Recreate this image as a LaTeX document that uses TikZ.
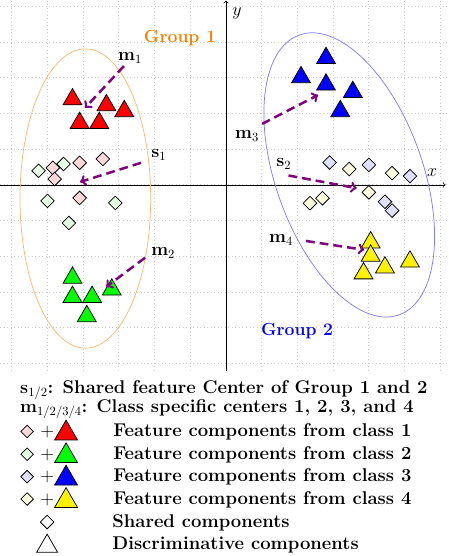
\documentclass[tikz,border=0pt]{standalone}
\usepackage{amsmath}
\usetikzlibrary{positioning,shapes.geometric}
\definecolor{cpurple}{RGB}{128,0,128}
\tikzset{disc/.style={regular polygon,regular polygon sides=3,draw=black,line width=0.6pt,inner sep=0pt,minimum size=0.61cm},
         shared/.style={diamond,draw=black,line width=0.6pt,inner sep=0pt,minimum size=0.39cm},
         centerline/.style={->,cpurple,line width=2pt,dash pattern=on 7pt off 4pt},
         lbl/.style={font=\fontsize{14.7}{17}\selectfont},
         grouplbl/.style={font=\fontsize{14}{17}\selectfont\bfseries},
         legtext/.style={anchor=base west,inner sep=0pt,font=\fontsize{14.7}{17}\selectfont\bfseries}
}

\begin{document}
\begin{tikzpicture}[x=1cm,y=0.826cm]
  \useasboundingbox (-6.33,-12.58) rectangle (6.22,6.27);
  % grid and axes
  \draw[gray!40,dotted,thick] (-6.33,-6.3) grid (6.22,6.27);
  \draw[->,semithick] (-6.33,0) -- (6.15,0);
  \draw[->,semithick] (0,-6.3) -- (0,6.25);
  \node[lbl] (xl) at (5.77,0.41) {$x$};
  \node[lbl] (yl) at (0.31,5.83) {$y$};

  % groups
  \draw[orange!55,semithick] (-3.94,-0.46) ellipse [x radius=1.83cm, y radius=4.19cm];
  \draw[blue!50,semithick,rotate around={19.6:(3.45,0.34)}] (3.45,0.34) ellipse [x radius=2.06cm, y radius=4.16cm];
  \node[grouplbl,orange] (g1l) at (-1.29,4.98) {Group 1};
  \node[grouplbl,blue] (g2l) at (1.99,-4.95) {Group 2};

  % shared components, group 1
  \node[shared,fill=green!10] (q1) at (-5.25,0.48) {};
  \node[shared,fill=red!15] (p1) at (-4.85,0.58) {};
  \node[shared,fill=green!10] (q2) at (-4.55,0.71) {};
  \node[shared,fill=red!15] (p2) at (-4.1,0.75) {};
  \node[shared,fill=red!15] (p3) at (-3.45,0.88) {};
  \node[shared,fill=red!15] (p4) at (-4.8,0.2) {};
  \node[shared,fill=red!15] (p5) at (-4.1,-0.44) {};
  \node[shared,fill=green!10] (q3) at (-5.0,-0.54) {};
  \node[shared,fill=green!10] (q4) at (-3.1,-0.61) {};
  \node[shared,fill=green!10] (q5) at (-4.4,-1.29) {};
  % shared components, group 2
  \node[shared,fill=blue!12] (v1) at (2.9,0.76) {};
  \node[shared,fill=yellow!12] (c1) at (3.45,0.54) {};
  \node[shared,fill=blue!12] (v2) at (4.0,0.68) {};
  \node[shared,fill=yellow!12] (c2) at (4.65,0.4) {};
  \node[shared,fill=blue!12] (v3) at (5.15,0.3) {};
  \node[shared,fill=yellow!12] (c3) at (4.0,-0.25) {};
  \node[shared,fill=yellow!12] (c4) at (2.35,-0.62) {};
  \node[shared,fill=yellow!12] (c5) at (2.7,-0.45) {};
  \node[shared,fill=blue!12] (v4) at (4.45,-0.57) {};
  \node[shared,fill=blue!12] (v5) at (4.65,-0.87) {};

  % discriminative components
  \node[disc,fill=red] (r1) at (-4.3,2.9) {};
  \node[disc,fill=red] (r2) at (-3.35,2.7) {};
  \node[disc,fill=red] (r3) at (-2.85,2.5) {};
  \node[disc,fill=red] (r4) at (-4.1,2.1) {};
  \node[disc,fill=red] (r5) at (-3.55,2.1) {};
  \node[disc,fill=green] (g1) at (-4.3,-3.15) {};
  \node[disc,fill=green] (g2) at (-4.3,-3.8) {};
  \node[disc,fill=green] (g3) at (-3.75,-3.8) {};
  \node[disc,fill=green] (g4) at (-3.2,-3.55) {};
  \node[disc,fill=green] (g5) at (-3.9,-4.45) {};
  \node[disc,fill=blue] (b1) at (2.8,4.3) {};
  \node[disc,fill=blue] (b2) at (2.1,3.65) {};
  \node[disc,fill=blue] (b3) at (2.8,3.4) {};
  \node[disc,fill=blue] (b4) at (3.55,3.15) {};
  \node[disc,fill=blue] (b5) at (3.2,2.5) {};
  \node[disc,fill=yellow] (y1) at (4.05,-1.95) {};
  \node[disc,fill=yellow] (y2) at (4.05,-2.4) {};
  \node[disc,fill=yellow] (y3) at (4.45,-2.8) {};
  \node[disc,fill=yellow] (y4) at (5.15,-2.6) {};
  \node[disc,fill=yellow] (y5) at (3.85,-3.0) {};

  % centers
  \node[lbl] (m1l) at (-2.69,4.31) {$\mathbf{m}_1$};
  \node[lbl] (s1l) at (-1.88,1.02) {$\mathbf{s}_1$};
  \node[lbl] (m2l) at (-1.76,-2.31) {$\mathbf{m}_2$};
  \node[lbl] (m3l) at (0.59,1.66) {$\mathbf{m}_3$};
  \node[lbl] (s2l) at (1.62,0.71) {$\mathbf{s}_2$};
  \node[lbl] (m4l) at (1.54,-1.86) {$\mathbf{m}_4$};
  \coordinate (m1a) at (-2.86,4.03);
  \coordinate (m1b) at (-3.95,2.61);
  \coordinate (s1a) at (-2.38,0.75);
  \coordinate (s1b) at (-4.09,0.1);
  \coordinate (m2a) at (-2.27,-2.47);
  \coordinate (m2b) at (-3.36,-3.46);
  \coordinate (m3a) at (1.01,2.07);
  \coordinate (m3b) at (2.58,3.05);
  \coordinate (s2a) at (1.75,0.32);
  \coordinate (s2b) at (3.66,-0.11);
  \coordinate (m4a) at (2.24,-1.9);
  \coordinate (m4b) at (3.87,-2.2);
  \draw[centerline] (m1a) -- (m1b);
  \draw[centerline] (s1a) -- (s1b);
  \draw[centerline] (m2a) -- (m2b);
  \draw[centerline] (m3a) -- (m3b);
  \draw[centerline] (s2a) -- (s2b);
  \draw[centerline] (m4a) -- (m4b);

  % legend
  \node[legtext] (sleg) at (-5.77,-7.08) {$\mathbf{s}_{1/2}$: Shared feature Center of Group 1 and 2};
  \node[legtext] (mleg) at (-5.77,-7.7) {$\mathbf{m}_{1/2/3/4}$: Class specific centers 1, 2, 3, and 4};
  \node[shared,fill=red!15,minimum size=0.36cm] (ld1) at (-5.57,-8.36) {};
  \node[lbl] (lp1) at (-5.01,-8.38) {$+$};
  \node[disc,fill=red,minimum size=0.74cm] (lt1) at (-4.48,-8.42) {};
  \node[legtext] (lx1) at (-3.165,-8.53) {Feature components from class 1};
  \node[shared,fill=green!10,minimum size=0.36cm] (ld2) at (-5.57,-9.13) {};
  \node[lbl] (lp2) at (-5.01,-9.15) {$+$};
  \node[disc,fill=green,minimum size=0.74cm] (lt2) at (-4.48,-9.19) {};
  \node[legtext] (lx2) at (-3.165,-9.3) {Feature components from class 2};
  \node[shared,fill=blue!12,minimum size=0.36cm] (ld3) at (-5.57,-9.89) {};
  \node[lbl] (lp3) at (-5.01,-9.91) {$+$};
  \node[disc,fill=blue,minimum size=0.74cm] (lt3) at (-4.48,-9.95) {};
  \node[legtext] (lx3) at (-3.165,-10.06) {Feature components from class 3};
  \node[shared,fill=yellow!12,minimum size=0.36cm] (ld4) at (-5.57,-10.65) {};
  \node[lbl] (lp4) at (-5.01,-10.67) {$+$};
  \node[disc,fill=yellow,minimum size=0.74cm] (lt4) at (-4.48,-10.71) {};
  \node[legtext] (lx4) at (-3.165,-10.82) {Feature components from class 4};
  \node[shared,fill=white] (lds) at (-5.01,-11.43) {};
  \node[legtext] (lxs) at (-3.19,-11.6) {Shared components};
  \node[disc,fill=white,minimum size=0.68cm] (ltd) at (-5.01,-12.25) {};
  \node[legtext] (lxd) at (-3.19,-12.37) {Discriminative components};
\end{tikzpicture}
\end{document}
